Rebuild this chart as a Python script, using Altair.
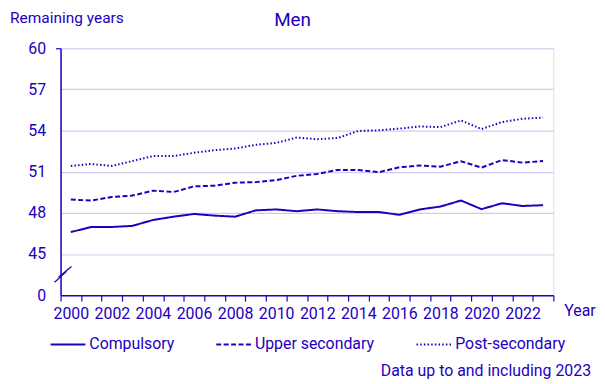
import altair as alt
import pandas as pd

BLUE = "#1e00be"
GRID = "#d0ccf0"
FONT = "Roboto"
FS = 16

years = list(range(2000, 2024))
compulsory = [46.60, 46.97, 46.97, 47.05, 47.48, 47.72, 47.92, 47.80, 47.72, 48.18, 48.25, 48.12,
              48.25, 48.12, 48.06, 48.06, 47.86, 48.25, 48.46, 48.90, 48.27, 48.70, 48.50, 48.56]
upper_secondary = [48.97, 48.90, 49.16, 49.26, 49.62, 49.52, 49.93, 49.98, 50.20, 50.24, 50.39, 50.70,
                   50.84, 51.13, 51.13, 50.96, 51.32, 51.45, 51.37, 51.76, 51.30, 51.85, 51.66, 51.78]
post_secondary = [51.42, 51.56, 51.42, 51.78, 52.14, 52.14, 52.38, 52.57, 52.69, 52.96, 53.10, 53.49,
                  53.37, 53.46, 53.97, 54.02, 54.14, 54.30, 54.25, 54.74, 54.11, 54.62, 54.86, 54.95]
series = ["Compulsory", "Upper secondary", "Post-secondary"]
y_ticks = [42, 45, 48, 51, 54, 57, 60]
x_edges = [1999.5 + i for i in range(25)]

rows = []
for name, vals in zip(series, [compulsory, upper_secondary, post_secondary]):
    for yr, v in zip(years, vals):
        rows.append({"year": yr, "value": v, "series": name})
df = pd.DataFrame(rows)

x_axis = alt.Axis(
    values=x_edges,
    labelExpr="datum.value < 2023 && (datum.value + 0.5) % 2 == 0 ? '' + (datum.value + 0.5) : ''",
    labelOffset=10.35, labelOverlap=False, labelFlush=False,
    tickSize=6, tickColor=BLUE, domainColor=BLUE, domainWidth=1.5, tickWidth=1.2,
    labelPadding=5, labelFontSize=FS, labelColor=BLUE, labelFont=FONT,
    grid=False, title=None,
)
y_axis = alt.Axis(
    values=y_ticks,
    labelExpr="datum.value == 42 ? '0' : datum.label",
    tickSize=5, tickWidth=1.2,
    tickColor={"condition": {"test": "datum.value == 60", "value": BLUE}, "value": "transparent"},
    gridColor={"condition": {"test": "datum.value == 42", "value": "transparent"}, "value": GRID},
    grid=True, gridWidth=1.2,
    domainColor=BLUE, domainWidth=1.5,
    labelPadding=10, labelFontSize=FS, labelColor=BLUE, labelFont=FONT,
    title=None,
)

lines = alt.Chart(df).mark_line(strokeWidth=2, color=BLUE).encode(
    x=alt.X("year:Q", scale=alt.Scale(domain=[1999.5, 2023.5], nice=False, zero=False), axis=x_axis),
    y=alt.Y("value:Q", scale=alt.Scale(domain=[42, 60], nice=False, zero=False), axis=y_axis),
    strokeDash=alt.StrokeDash(
        "series:N",
        scale=alt.Scale(domain=series, range=[[1, 0], [5, 2.5], [1.5, 2.2]]),
        legend=alt.Legend(
            title=None, orient="none", direction="horizontal", legendX=-11, legendY=280,
            symbolType="stroke", symbolSize=1225, symbolStrokeWidth=2, symbolStrokeColor=BLUE,
            labelFontSize=FS, labelColor=BLUE, labelFont=FONT, labelOffset=3,
            columnPadding=38, labelLimit=300,
        ),
    ),
)

def label(txt, x, y, size=FS, align="left"):
    return alt.Chart(pd.DataFrame({"t": [txt]})).mark_text(
        font=FONT, fontSize=size, color=BLUE, align=align, baseline="alphabetic"
    ).encode(x=alt.value(x), y=alt.value(y), text="t:N")

title = label("Men", 234, -22, size=19, align="center")
ylab = label("Remaining years", -51, -25, size=15.6)
xlab = label("Year", 508, 270)
foot = label("Data up to and including 2023", 535, 331, align="right")

brk1 = alt.Chart(pd.DataFrame({"k": [0]})).mark_rule(color=BLUE, strokeWidth=1.3).encode(
    x=alt.value(-6), x2=alt.value(6), y=alt.value(236), y2=alt.value(225))
brk2 = alt.Chart(pd.DataFrame({"k": [0]})).mark_rule(color=BLUE, strokeWidth=1.3).encode(
    x=alt.value(-2), x2=alt.value(11), y=alt.value(231), y2=alt.value(220))

chart = alt.layer(lines, brk1, brk2, title, ylab, xlab, foot).properties(
    width=497, height=249,
    autosize=alt.AutoSizeParams(type="none"),
    padding={"left": 53, "top": 39, "right": 44, "bottom": 88},
).configure_view(stroke=None).configure(font=FONT)

chart.save("out.html", embed_options={"renderer": "svg", "actions": False})
